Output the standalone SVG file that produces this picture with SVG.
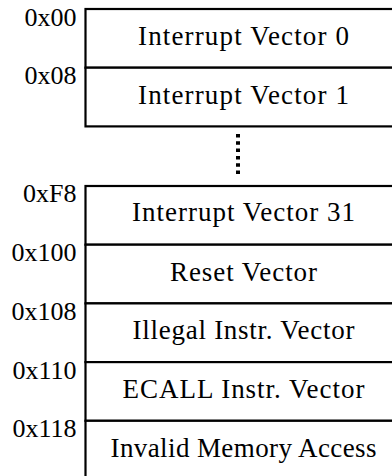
<svg xmlns="http://www.w3.org/2000/svg" width="392" height="476" viewBox="0 0 392 476">
  <style>
    .cell { fill: #ffffff; stroke: #000000; stroke-width: 2.2; }
    .name { font-size: 27px; fill: #000000; text-anchor: middle; }
    .addr { font-size: 26px; fill: #000000; text-anchor: end; }
    .gap { stroke: #000000; stroke-width: 4; stroke-dasharray: 3.5 3.8; fill: none; }
  </style>

  <rect width="392" height="476" fill="#ffffff"/>

  <g font-family="'Liberation Serif', 'Times New Roman', serif">
    <!-- vector table, first block -->
    <g id="vec0">
      <rect class="cell" x="85.5" y="9" width="330" height="58.7"/>
      <text class="addr" x="76.5" y="25.5">0x00</text>
      <text class="name" x="243.5" y="44.7" textLength="211">Interrupt Vector 0</text>
    </g>
    <g id="vec1">
      <rect class="cell" x="85.5" y="67.7" width="330" height="58.7"/>
      <text class="addr" x="76.5" y="84">0x08</text>
      <text class="name" x="243.5" y="103.7" textLength="211">Interrupt Vector 1</text>
    </g>

    <!-- elided entries -->
    <g id="ellipsis">
      <line class="gap" x1="238" y1="134" x2="238" y2="175"/>
    </g>

    <!-- vector table, second block -->
    <g id="vec31">
      <rect class="cell" x="85.5" y="186" width="330" height="58.7"/>
      <text class="addr" x="76.5" y="202.3">0xF8</text>
      <text class="name" x="243.5" y="221" textLength="223">Interrupt Vector 31</text>
    </g>
    <g id="reset">
      <rect class="cell" x="85.5" y="244.7" width="330" height="58.7"/>
      <text class="addr" x="76.5" y="261">0x100</text>
      <text class="name" x="243.5" y="280.7" textLength="147">Reset Vector</text>
    </g>
    <g id="illegal">
      <rect class="cell" x="85.5" y="303.4" width="330" height="58.7"/>
      <text class="addr" x="76.5" y="320">0x108</text>
      <text class="name" x="243.5" y="339.4" textLength="222">Illegal Instr. Vector</text>
    </g>
    <g id="ecall">
      <rect class="cell" x="85.5" y="362.1" width="330" height="58.7"/>
      <text class="addr" x="76.5" y="378.7">0x110</text>
      <text class="name" x="243.5" y="398" textLength="242">ECALL Instr. Vector</text>
    </g>
    <g id="invalid">
      <rect class="cell" x="85.5" y="420.8" width="330" height="58.7"/>
      <text class="addr" x="76.5" y="437">0x118</text>
      <text class="name" x="243.5" y="456.8" textLength="266">Invalid Memory Access</text>
    </g>
  </g>
</svg>
